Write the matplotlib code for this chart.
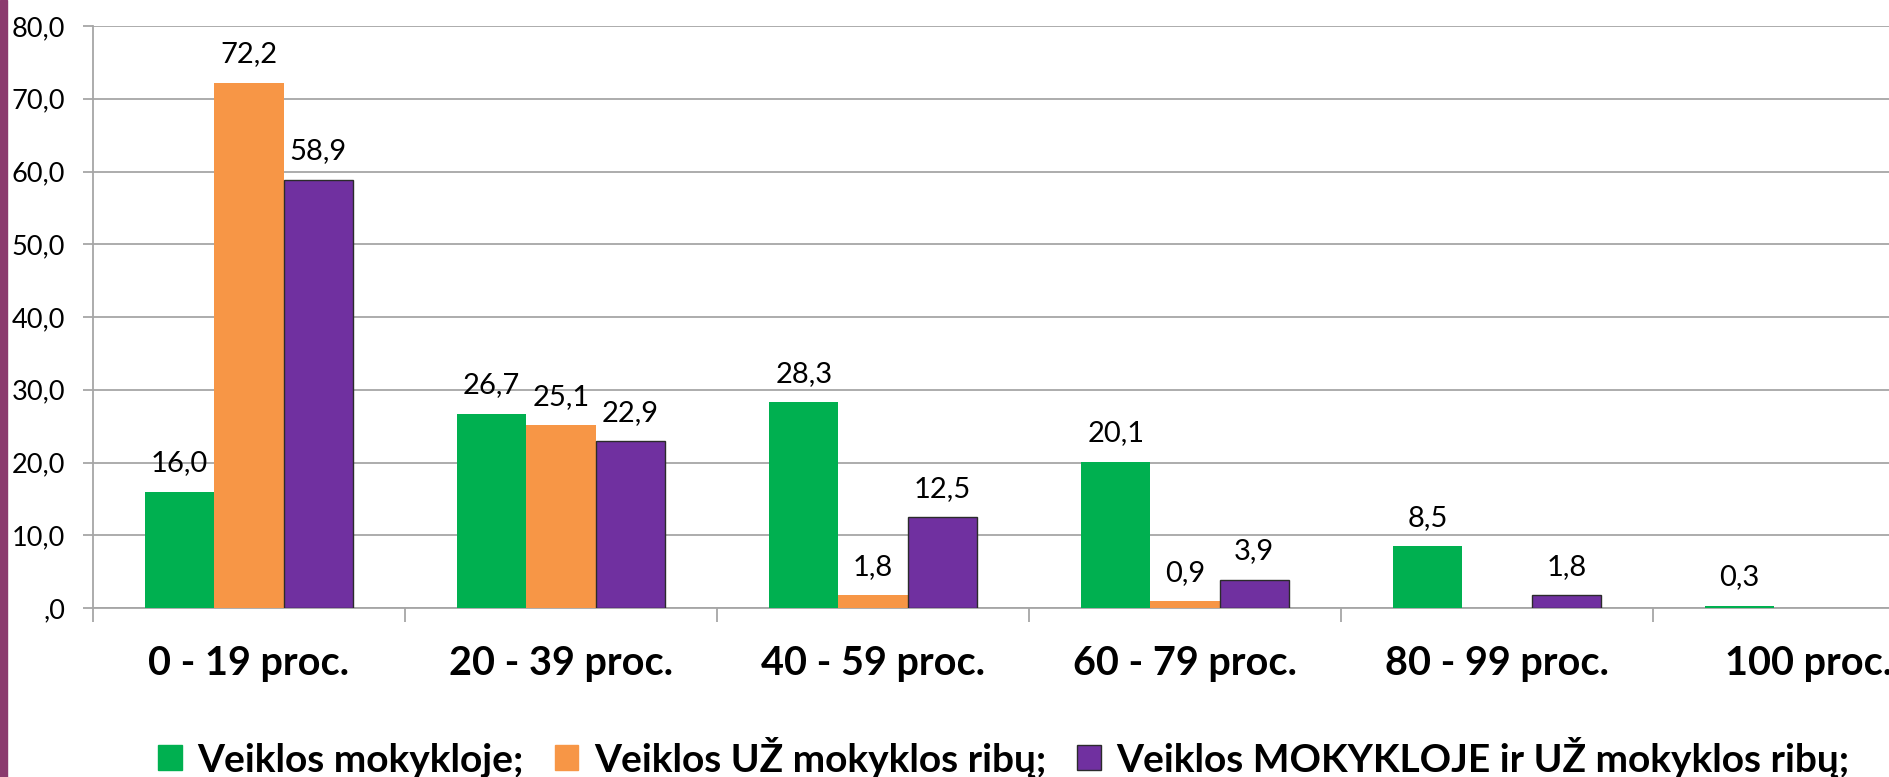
import numpy as np
import matplotlib.pyplot as plt
from matplotlib.patches import Patch

plt.rcParams['font.family'] = ['Lato', 'DejaVu Sans']

# DATA
categories = ["0 - 19 proc.", "20 - 39 proc.", "40 - 59 proc.", "60 - 79 proc.", "80 - 99 proc.", "100 proc."]
series_names = ["Veiklos mokykloje;", "Veiklos UŽ mokyklos ribų;", "Veiklos MOKYKLOJE ir UŽ mokyklos ribų;"]
in_school = [16.0, 26.7, 28.3, 20.1, 8.5, 0.3]
outside_school = [72.2, 25.1, 1.8, 0.9, np.nan, np.nan]
both = [58.9, 22.9, 12.5, 3.9, 1.8, np.nan]
y_ticks = [0, 10, 20, 30, 40, 50, 60, 70, 80]
y_tick_labels = [",0", "10,0", "20,0", "30,0", "40,0", "50,0", "60,0", "70,0", "80,0"]

colors = ["#00B050", "#F79646", "#7030A0"]
edges = ["none", "none", "#2b2b2b"]

W, H = 1889, 777
fig = plt.figure(figsize=(W / 100, H / 100), dpi=100)
ax = fig.add_axes([93 / W, (H - 608) / H, (W - 93) / W, 582 / H])

x = np.arange(len(categories))
bw = 0.222
for i, vals in enumerate([in_school, outside_school, both]):
    vals = np.array(vals, dtype=float)
    pos = x + (i - 1) * bw
    ax.bar(pos, vals, width=bw, color=colors[i], edgecolor=edges[i],
           linewidth=1.0 if edges[i] != "none" else 0, zorder=3)
    for px_, v in zip(pos, vals):
        if np.isnan(v):
            continue
        ax.annotate(f"{v:.1f}".replace(".", ","), (px_, v), xytext=(0, 11),
                    textcoords="offset points", ha="center", va="bottom",
                    fontsize=21, color="black")

ax.set_yticks(y_ticks)
ax.set_yticklabels(y_tick_labels, fontsize=19.5)
ax.yaxis.grid(True, color="#A6A6A6", linewidth=1.3, zorder=0)
ax.set_axisbelow(True)

# category boundaries as minor ticks, labels at centers
ax.set_xticks(x)
ax.set_xticklabels(categories, fontsize=28.5, fontweight="bold")
ax.set_xticks(np.arange(-0.5, len(categories)), minor=True)
ax.tick_params(axis="x", which="major", length=0, pad=27)
ax.tick_params(axis="x", which="minor", length=10, color="#A6A6A6", width=1.3)
ax.tick_params(axis="y", length=7, color="#A6A6A6", width=1.3, pad=13)
ax.set_ylim(0, 80)
ax.set_xlim(-0.5, -0.5 + (W - 93) / 312)

for s in ["top", "right"]:
    ax.spines[s].set_visible(False)
for s in ["left", "bottom"]:
    ax.spines[s].set_color("#A6A6A6")
    ax.spines[s].set_linewidth(1.3)

# purple strip on the left edge
fig.patches.append(plt.Rectangle((0, 0), 7 / W, 1, transform=fig.transFigure,
                                 color="#8B3A6E", zorder=10))

handles = [Patch(facecolor=colors[i], edgecolor=edges[i] if edges[i] != "none" else colors[i],
                 linewidth=1.0) for i in range(3)]
fig.legend(handles, series_names, loc="center", bbox_to_anchor=(1004 / W, (H - 757) / H),
           ncol=3, frameon=False, prop={"size": 28, "weight": "bold"},
           handlelength=0.6, handleheight=0.6, handletextpad=0.4, columnspacing=0.8)

fig.savefig("out.png", dpi=100)
